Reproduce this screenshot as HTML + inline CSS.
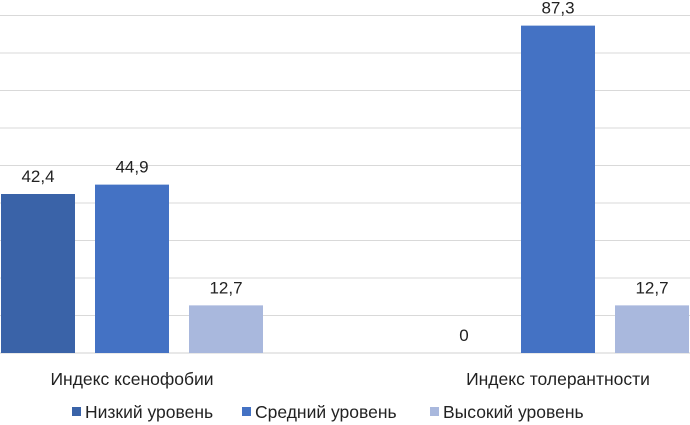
<!DOCTYPE html>
<html><head><meta charset="utf-8"><style>
html,body{margin:0;padding:0;background:#fff;}
svg{display:block;font-family:"Liberation Sans",Arial,sans-serif;}
</style></head><body>
<svg id="chart" width="690" height="425">
<g id="grid"></g>
<g id="bars"></g>
<g id="labels"></g>
<g id="cats"></g>
<g id="legend"></g>
</svg>
<script>
const categories = ["Индекс ксенофобии", "Индекс толерантности"];
const seriesNames = ["Низкий уровень", "Средний уровень", "Высокий уровень"];
const lowValues = [42.4, 0];
const midValues = [44.9, 87.3];
const highValues = [12.7, 12.7];
const yTicks = [0,10,20,30,40,50,60,70,80,90];
const colors = ["#3a63a8","#4472c4","#a9b8dd"];
const NS="http://www.w3.org/2000/svg";
const baseY=353, pxPerUnit=3.75;
function y(v){return baseY - v*pxPerUnit;}
const catW=426, firstCenter=132, barW=74, gap=20;
function catCenter(i){return firstCenter + i*catW;}
function barX(ci,si){return catCenter(ci) - (3*barW+2*gap)/2 + si*(barW+gap);}
function mk(tag,attrs,parent){const e=document.createElementNS(NS,tag);for(const k in attrs)e.setAttribute(k,attrs[k]);parent.appendChild(e);return e;}
const grid=document.getElementById('grid');
yTicks.forEach(t=>{
  const l=mk('line',{x1:0,x2:690,y1:y(t),y2:y(t),stroke:t===0?'#d0d0d0':'#d9d9d9','stroke-width':1},grid);
  
  
});
const series=[lowValues,midValues,highValues];
const bars=document.getElementById('bars'), labels=document.getElementById('labels');
series.forEach((vals,si)=>{
  vals.forEach((v,ci)=>{
    const x=barX(ci,si);
    const r=mk('rect',{x:x,y:y(v),width:barW,height:v*pxPerUnit,fill:colors[si]},bars);
    
    
    const t=mk('text',{x:x+barW/2,y:y(v)-12,'text-anchor':'middle','font-size':17,fill:'#222'},labels);
    t.textContent=String(v).replace('.',',');
    
    
  });
});
const cats=document.getElementById('cats');
categories.forEach((c,i)=>{
  const t=mk('text',{x:catCenter(i),y:385,'text-anchor':'middle','font-size':17.5,fill:'#222'},cats);
  t.textContent=c;
  
  
});
const legend=document.getElementById('legend');
const legX=[72,242,430];
seriesNames.forEach((n,i)=>{
  const g=mk('g',{},legend);
  
  
  mk('rect',{x:legX[i],y:407,width:9,height:9,fill:colors[i]},g);
  const t=mk('text',{x:legX[i]+13,y:418,'font-size':17.5,fill:'#222'},g);
  t.textContent=n;
});
</script>
</body></html>
